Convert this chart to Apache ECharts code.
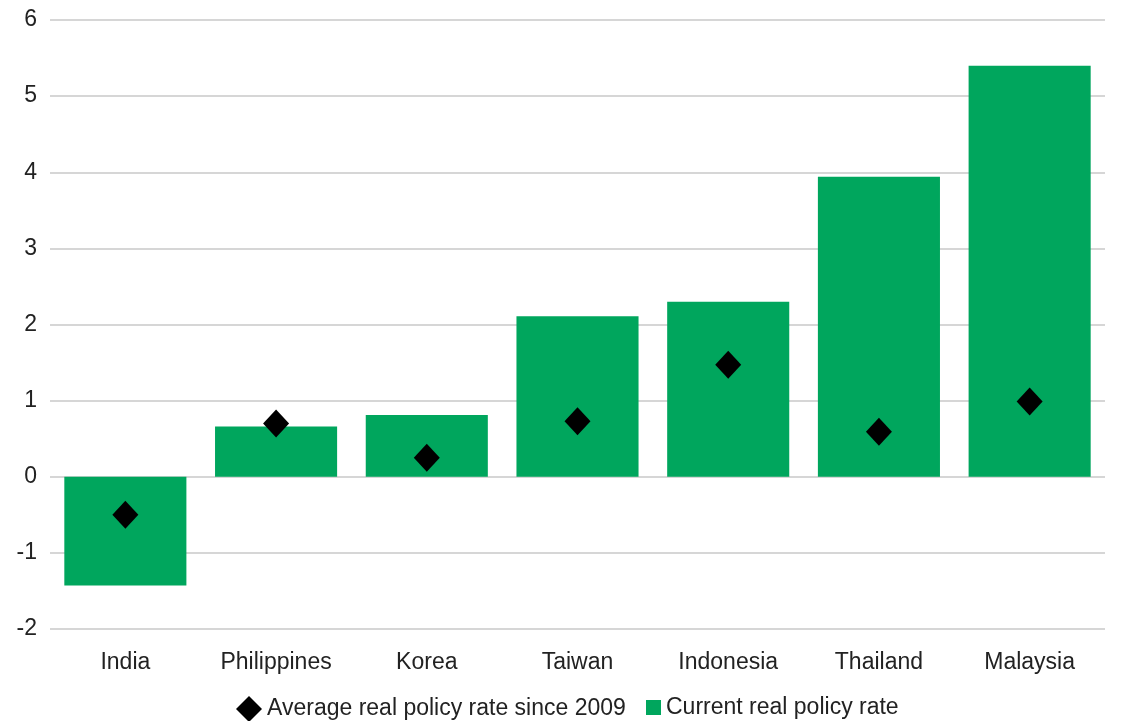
<!DOCTYPE html>
<html>
<head>
<meta charset="utf-8">
<script src="https://cdn.jsdelivr.net/npm/echarts@6/dist/echarts.min.js"></script>
<style>
  html, body { margin: 0; padding: 0; background: #fff; }
  #chart { width: 1127px; height: 721px; }
</style>
</head>
<body>
<div id="chart"></div>
<script>
// Economies shown along the x axis
const categories = ['India', 'Philippines', 'Korea', 'Taiwan', 'Indonesia', 'Thailand', 'Malaysia'];
// Current real policy rate (%)
const currentRate = [-1.43, 0.66, 0.81, 2.11, 2.30, 3.94, 5.40];
// Average real policy rate since 2009 (%)
const averageRate = [-0.50, 0.70, 0.25, 0.73, 1.47, 0.59, 0.99];
// Y axis range and step
const yMin = -2, yMax = 6, yStep = 1;

const green = '#00a65d';
const font = 'Liberation Sans, Arial, sans-serif';
const fs = 23;

const chart = echarts.init(document.getElementById('chart'));
chart.setOption({
  animation: false,
  grid: { left: 50, right: 22, top: 20, bottom: 92 },
  legend: [
    {
      left: 236,
      top: 696,
      padding: 0,
      itemWidth: 26,
      itemHeight: 26,
      textStyle: { fontFamily: font, fontSize: fs, color: '#222' },
      data: [{ name: 'Average real policy rate since 2009', icon: 'diamond', itemStyle: { color: '#000', opacity: 1 } }]
    },
    {
      left: 646,
      top: 696,
      padding: 0,
      itemWidth: 15,
      itemHeight: 15,
      textStyle: { fontFamily: font, fontSize: fs, color: '#222' },
      data: [{ name: 'Current real policy rate', icon: 'rect', itemStyle: { color: green } }]
    }
  ],
  xAxis: {
    type: 'category',
    data: categories,
    axisLine: { show: false },
    axisTick: { show: false },
    axisLabel: { fontFamily: font, fontSize: fs, color: '#222', margin: 22 }
  },
  yAxis: {
    type: 'value',
    min: yMin,
    max: yMax,
    interval: yStep,
    axisLine: { show: false },
    axisTick: { show: false },
    axisLabel: { fontFamily: font, fontSize: fs, color: '#222', margin: 13 },
    splitLine: { lineStyle: { color: '#c8c8c8', width: 1.5 } }
  },
  series: [
    {
      name: 'Current real policy rate',
      type: 'bar',
      data: currentRate,
      barCategoryGap: '19%',
      itemStyle: { color: green },
      z: 2
    },
    {
      name: 'Average real policy rate since 2009',
      type: 'scatter',
      data: averageRate,
      symbol: 'diamond',
      symbolSize: [26, 28],
      itemStyle: { color: '#000', opacity: 1 },
      z: 3
    }
  ]
});
</script>
</body>
</html>
